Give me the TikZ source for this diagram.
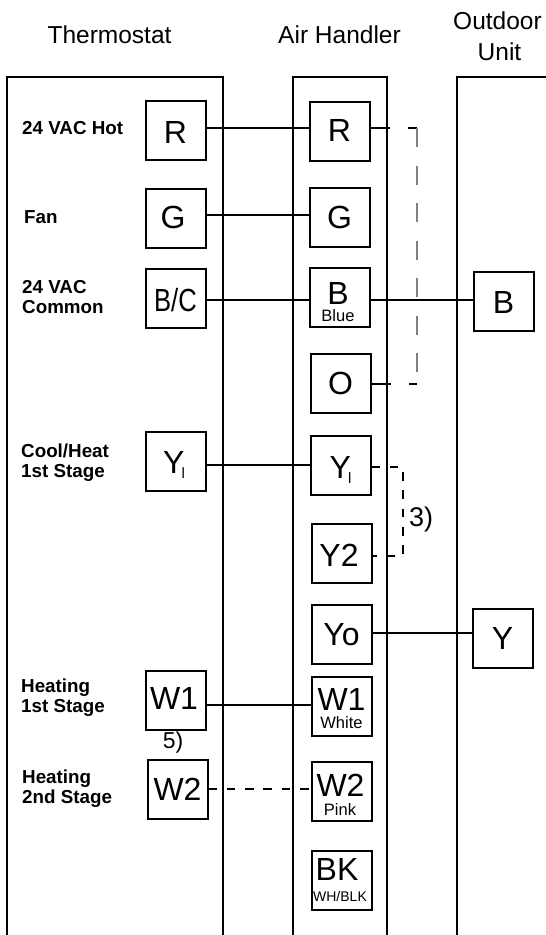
\documentclass[tikz,border=0pt]{standalone}
\usepackage{graphicx}
\usepackage{fontspec}
\setmainfont{Liberation Sans}
\newcommand{\fsz}[1]{\fontsize{#1}{#1}\selectfont}
% raise a capital letter text by #1pt from the centre of its box
\newcommand{\upby}[2]{\raisebox{\dimexpr #1pt-11.5pt\relax}[0pt][0pt]{#2}}
\newcommand{\Yl}{Y\kern-3pt\raisebox{-5pt}[0pt][0pt]{\fsz{15}l}}
\tikzset{
  x=1pt,y=-1pt,
  panel/.style={line width=2pt,draw=black},
  term/.style={draw=black,line width=2pt,minimum width=60pt,minimum height=59pt,inner sep=0pt,font=\fsz{32}},
  head/.style={font=\fsz{24.5},align=center,inner sep=0pt},
  lab/.style={font=\fsz{18.8}\bfseries,align=left,anchor=west,inner sep=0pt},
  sub/.style={font=\fsz{16.5},inner sep=0pt},
  wire/.style={line width=2pt,draw=black},
  dwire/.style={line width=2pt,draw=black,dash pattern=on 8.5pt off 9.8pt},
  jwire/.style={line width=1.2pt,draw=black,dash pattern=on 19pt off 18.5pt},
  gwire/.style={line width=1.2pt,draw=gray,dash pattern=on 19pt off 18.5pt},
  note/.style={inner sep=0pt}
}
\begin{document}
\begin{tikzpicture}
\useasboundingbox (0,0) rectangle (546,935);
% panels
\draw[panel] (7,935) -- (7,77) -- (222.5,77) -- (222.5,935);
\draw[panel] (292.5,935) -- (292.5,77) -- (387,77) -- (387,935);
\draw[panel] (457,935) -- (457,77) -- (546,77);
% headings
\node[head] (hT) at (109.5,35) {Thermostat};
\node[head] (hA) at (339.5,35) {Air Handler};
\node[head] (hOa) at (497.5,21) {Outdoor};
\node[head] (hOb) at (499.5,52) {Unit};
% thermostat terminals
\node[term] (tR) at (175.5,130) {\upby{-1.5}{R}};
\node[term] (tG) at (175.5,218.5) {\upby{2}{G\kern5pt}};
\node[term] (tB) at (175.5,298.5) {\upby{-1.5}{\scalebox{0.8}[1]{B/C}}};
\node[term] (tY) at (175.5,461.5) {\upby{0}{\Yl\kern3pt}};
\node[term] (tWa) at (175.5,700) {\upby{2}{W1\kern3pt}};
\node[term] (tWb) at (177.5,789.5) {\upby{1}{W2}};
% air handler terminals
\node[term] (aR) at (339.5,131.5) {\upby{1.5}{R}};
\node[term] (aG) at (339.5,217) {\upby{0}{G}};
\node[term] (aB) at (339.5,297.5) {\upby{5}{B\kern3pt}};
\node[sub] (aBs) at (338,315.7) {Blue};
\node[term] (aO) at (340.5,383) {\upby{0}{O}};
\node[term] (aY) at (340.5,465) {\upby{-1.5}{\Yl}};
\node[term] (aYb) at (341.5,553) {\upby{-1.5}{Y2\kern5pt}};
\node[term] (aYo) at (341.5,634) {\upby{0}{Yo}};
\node[term] (aWa) at (341.5,706) {\upby{7.5}{W1}};
\node[sub] (aWas) at (341.5,723) {White};
\node[term] (aWb) at (341.5,791.5) {\upby{6.5}{W2\kern2pt}};
\node[sub] (aWbs) at (340,810) {Pink};
\node[term] (aK) at (341.5,880) {\upby{11.5}{BK\kern9pt}};
\node[sub,font=\fsz{14}] (aKs) at (340,896) {WH/BLK};
% outdoor terminals
\node[term] (oB) at (503.5,301.5) {\upby{0}{B}};
\node[term] (oY) at (502.5,638) {\upby{0}{Y}};
% labels
\node[lab] (l1) at (22,128) {24 VAC Hot};
\node[lab] (l2) at (24,217) {Fan};
\node[lab] (l3) at (22,297) {24 VAC\\[1pt]Common};
\node[lab] (l4) at (21,463) {Cool/Heat\\[1pt]1st Stage};
\node[lab] (l5) at (21,698) {Heating\\[1pt]1st Stage};
\node[lab] (l6) at (22,789) {Heating\\[1pt]2nd Stage};
\node[note,font=\fsz{23}] (n5) at (173,743) {5)};
\node[note,font=\fsz{27}] (n3) at (421,520) {3)};
% coordinates
\coordinate (c1) at (417,128);
\coordinate (c2) at (417,384);
\coordinate (d1) at (403,467);
\coordinate (d2) at (403,556);
% wires
\draw[wire] ([yshift=2pt]tR.east) -- ([yshift=3.5pt]aR.west);
\draw[wire] ([yshift=3.5pt]tG.east) -- ([yshift=2pt]aG.west);
\draw[wire] ([yshift=-1.5pt]tB.east) -- ([yshift=-2.5pt]aB.west);
\draw[wire] ([yshift=-2.5pt]aB.east) -- ([yshift=1.5pt]oB.west);
\draw[wire] ([yshift=-3.5pt]tY.east) -- (aY.west);
\draw[wire] ([yshift=1pt]aYo.east) -- ([yshift=5pt]oY.west);
\draw[wire] ([yshift=-5pt]tWa.east) -- ([yshift=1pt]aWa.west);
\draw[dwire] ([yshift=0.5pt]tWb.east) -- ([yshift=2.5pt]aWb.west);
\draw[jwire] ([yshift=3.5pt]aR.east) -- (c1);
\draw[gwire] (c1) -- (c2);
\draw[jwire] ([yshift=-1pt]aO.east) -- (c2);
\draw[dwire] ([yshift=-2pt]aY.east) -- (d1) -- (d2) -- ([yshift=-3pt]aYb.east);
\end{tikzpicture}
\end{document}
